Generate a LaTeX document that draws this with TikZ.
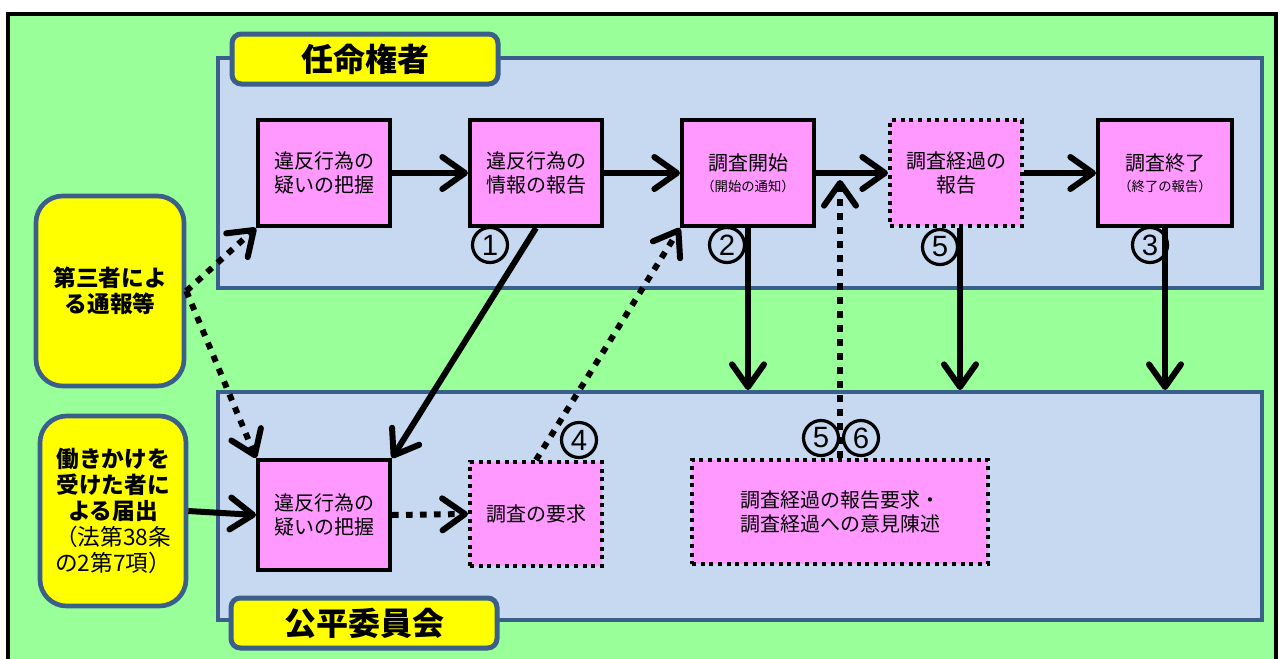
\documentclass[tikz,border=0pt]{standalone}
\usepackage{fontspec}
\setmainfont{Noto Sans CJK JP}
\newfontfamily\digitfont{Liberation Sans}
\usetikzlibrary{arrows.meta,calc}
\definecolor{bggreen}{HTML}{99FF99}
\definecolor{panelblue}{HTML}{C6D9F0}
\definecolor{steel}{HTML}{3A5F8B}
\definecolor{ylw}{HTML}{FFFF00}
\definecolor{pnk}{HTML}{FF99FF}
\begin{document}
\begin{tikzpicture}[x=0.75pt,y=-0.75pt,
  panel/.style={draw=steel, fill=panelblue, line width=3pt, minimum width=1044*0.75pt, inner sep=0},
  tag/.style={draw=steel, fill=ylw, line width=3.75pt, rounded corners=7pt, minimum width=266*0.75pt, minimum height=50*0.75pt, inner sep=0, font=\bfseries\fontsize{24pt}{28pt}\selectfont},
  ybox/.style={draw=steel, fill=ylw, line width=3.5pt, rounded corners=20pt, align=center, inner sep=0, minimum height=190*0.75pt, font=\bfseries\fontsize{17pt}{19.5pt}\selectfont},
  pbox/.style={draw=black, fill=pnk, line width=3pt, inner sep=0, align=center, minimum width=132*0.75pt, minimum height=106*0.75pt, font=\fontsize{15pt}{18pt}\selectfont},
  dbox/.style={pbox, dash pattern=on 3pt off 3.5pt},
  num/.style={circle, draw=black, line width=2.4pt, minimum size=35*0.75pt, inner sep=0, font=\digitfont\fontsize{22pt}{22pt}\selectfont},
  arr/.style={line width=4.5pt, -{Straight Barb[length=17pt,width=24pt,round]}},
  darr/.style={arr, dash pattern=on 5pt off 5.5pt}
]
\useasboundingbox (0,0) rectangle (1284,658);
\clip (0,0) rectangle (1284,658);
% background
\draw[fill=bggreen, line width=3pt] (8,14) rectangle (1276,720);
% panels
\node[panel, minimum height=230*0.75pt] (P1) at (740,173) {};
\node[panel, minimum height=228*0.75pt] (P2) at (740,506) {};
\node[tag] (T1) at (365,59) {任命権者};
\node[tag] (T2) at (364,623) {公平委員会};
% left boxes
\node[ybox, minimum width=148*0.75pt] (Y1) at (110,291) {第三者によ\\る通報等};
\node[ybox, minimum width=146*0.75pt] (Y2) at (113,511) {働きかけを\\受けた者に\\よる届出\\{\mdseries （法第38条}\\{\mdseries の2第7項）}};
% top boxes
\node[pbox] (A1) at (324,173) {違反行為の\\疑いの把握};
\node[pbox] (A2) at (536,173) {違反行為の\\情報の報告};
\node[pbox] (A3) at (748,173) {調査開始\\[-2pt]{\fontsize{10pt}{12pt}\selectfont （開始の通知）}};
\node[dbox] (A4) at (956,173) {調査経過の\\報告};
\node[pbox, minimum width=134*0.75pt] (A5) at (1165,173) {調査終了\\[-2pt]{\fontsize{10pt}{12pt}\selectfont （終了の報告）}};
% bottom boxes
\node[pbox, minimum height=110*0.75pt] (B1) at (324,515) {違反行為の\\疑いの把握};
\node[dbox, minimum height=104*0.75pt] (B2) at (536,514) {調査の要求};
\node[dbox, minimum width=296*0.75pt, minimum height=104*0.75pt] (B3) at (840,512) {調査経過の報告要求・\\調査経過への意見陳述};
\coordinate (up) at (840,180);
% connectors
\draw[arr] (A1.east) -- (A2.west);
\draw[arr] (A2.east) -- (A3.west);
\draw[arr] (A3.east) -- (A4.west);
\draw[arr] (A4.east) -- (A5.west);
\draw[arr] (A2.south) -- (B1.north east);
\draw[arr] (A3.south) -- (A3.south |- P2.north);
\draw[arr] ([xshift=3pt]A4.south) -- ([xshift=3pt]A4.south |- P2.north);
\draw[arr] (A5.south) -- (A5.south |- P2.north);
\draw[arr] (Y2.east) -- (B1.west);
\draw[darr] (Y1.east) -- (A1.south west);
\draw[darr] (Y1.east) -- (B1.north west);
\draw[darr] (B1.east) -- (B2.west);
\draw[darr] (B2.north) -- (A3.south west);
\draw[darr] (B3.north) -- (up);
% numbers
\node[num] (n1) at (490,245) {1};
\node[num] (n2) at (727,245) {2};
\node[num] (n5a) at (940,247) {5};
\node[num] (n3) at (1150,245) {3};
\node[num] (n4) at (579,440) {4};
\node[num] (n5b) at (821,438) {5};
\node[num] (n6) at (861,438) {6};
\end{tikzpicture}
\end{document}
